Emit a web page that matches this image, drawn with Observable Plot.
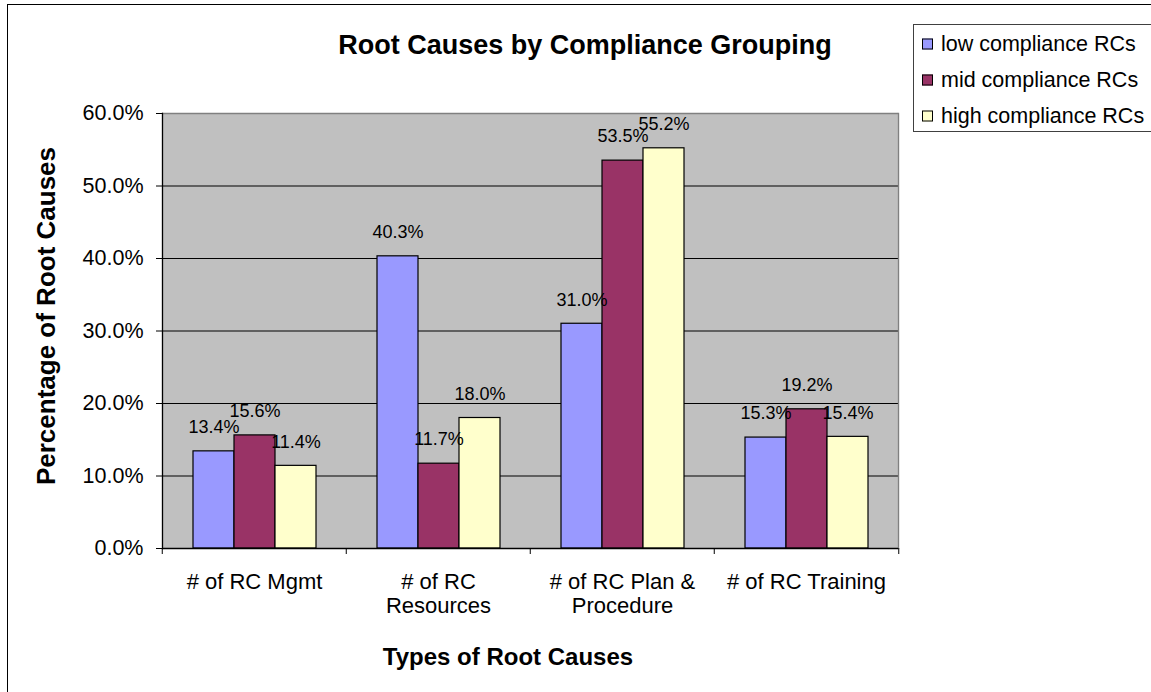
<!DOCTYPE html>
<html>
<head>
<meta charset="utf-8">
<script src="https://cdn.jsdelivr.net/npm/d3@7"></script>
<script src="https://cdn.jsdelivr.net/npm/@observablehq/plot@0.6"></script>
<style>
  html, body { margin: 0; padding: 0; background: #fff; overflow: hidden; }
  body { font-family: "Liberation Sans", Arial, sans-serif; color: #000; }
  #wrap { position: relative; width: 1151px; height: 692px; overflow: hidden; }
  #border { position: absolute; left: 7px; top: 4px; width: 1160px; height: 720px; border-left: 1.5px solid #000; border-top: 1.5px solid #000; box-sizing: border-box; }
  #chart { position: absolute; left: 0; top: 0; }
  .title { position: absolute; font-weight: bold; white-space: nowrap; transform: translate(-50%, -50%); }
  #legend { position: absolute; left: 913px; top: 24px; width: 260px; height: 108px; border: 1px solid #404040; box-sizing: border-box; background: #fff; }
  .item { position: absolute; left: 8px; font-size: 21.5px; white-space: nowrap; display: flex; align-items: center; transform: translateY(-50%); }
  .sw { width: 9px; height: 9px; border: 1px solid #000; margin-right: 8px; }
</style>
</head>
<body>
<div id="wrap">
  <div id="border"></div>
  <div id="chart"></div>
  <div class="title" id="mainTitle" style="left:585px; top:45px; font-size:27px;"></div>
  <div class="title" id="yTitle" style="left:46px; top:316px; font-size:26px; transform: translate(-50%, -50%) rotate(-90deg);"></div>
  <div class="title" id="xTitle" style="left:508px; top:657px; font-size:24px;"></div>
  <div id="legend"></div>
</div>
<script>
// ---- data ----
const chartTitle = "Root Causes by Compliance Grouping";
const xTitle = "Types of Root Causes";
const yTitle = "Percentage of Root Causes";
const categories = ["# of RC Mgmt", "# of RC Resources", "# of RC Plan & Procedure", "# of RC Training"];
const tickLabels = ["# of RC Mgmt", "# of RC\nResources", "# of RC Plan &\nProcedure", "# of RC Training"];
const series = ["low compliance RCs", "mid compliance RCs", "high compliance RCs"];
const lowValues = [0.134, 0.403, 0.310, 0.153];
const midValues = [0.156, 0.117, 0.535, 0.192];
const highValues = [0.114, 0.180, 0.552, 0.154];
const colors = ["#9999FF", "#993366", "#FFFFCC"];
const yTicks = [0, 0.1, 0.2, 0.3, 0.4, 0.5, 0.6];

const seriesValues = [lowValues, midValues, highValues];
const data = categories.flatMap((c, i) =>
  series.map((s, j) => ({category: c, series: s, value: seriesValues[j][i]}))
);

// ---- layout ----
const W = 1151, H = 692;
const M = {left: 161, right: 252, top: 113, bottom: 144};
const band = (W - M.left - M.right) / categories.length;
const pct = d3.format(".1%");

const chart = Plot.plot({
  width: W,
  height: H,
  marginLeft: M.left,
  marginRight: M.right,
  marginTop: M.top,
  marginBottom: M.bottom,
  style: {fontFamily: "'Liberation Sans', Arial, sans-serif", background: "transparent", color: "#000", overflow: "visible"},
  fx: {domain: categories, padding: 0, label: null},
  x: {domain: series, paddingInner: 0, paddingOuter: 0.733, axis: null},
  y: {domain: [0, 0.6], label: null},
  color: {domain: series, range: colors},
  marks: [
    Plot.frame({fill: "#C0C0C0", insetLeft: -0.6, insetRight: -0.6}),
    Plot.ruleY(yTicks.slice(1, -1), {stroke: "#000", strokeWidth: 1}),
    Plot.ruleY([0.6], {stroke: "#808080", strokeWidth: 1.3}),
    Plot.frame({anchor: "right", facetAnchor: "right", stroke: "#808080", strokeWidth: 1.3}),
    Plot.barY(data, {fx: "category", x: "series", y: "value", fill: "series", stroke: "#000", strokeWidth: 1.2}),
    Plot.text(data, {fx: "category", x: "series", y: "value", text: d => pct(d.value), dy: -24, fontSize: 18, fill: "#000"}),
    Plot.ruleY([0], {stroke: "#000", strokeWidth: 1.3}),
    Plot.frame({anchor: "left", facetAnchor: "left", stroke: "#000", strokeWidth: 1.3}),
    Plot.axisY({ticks: yTicks, tickFormat: pct, tickSize: 6, tickPadding: 13, fontSize: 21.5, label: null, stroke: "#000"}),
    Plot.axisFx({anchor: "bottom", tickSize: 0, tickPadding: 23, tickFormat: d => tickLabels[categories.indexOf(d)], fontSize: 22, label: null, lineHeight: 1.1}),
    Plot.axisFx({anchor: "bottom", tickSize: 6, dx: -band / 2, tickFormat: () => "", label: null, stroke: "#000"}),
    Plot.axisFx({anchor: "bottom", ticks: [categories[categories.length - 1]], tickSize: 6, dx: band / 2, tickFormat: () => "", label: null, stroke: "#000"})
  ]
});
document.getElementById("chart").appendChild(chart);

document.getElementById("mainTitle").textContent = chartTitle;
document.getElementById("xTitle").textContent = xTitle;
document.getElementById("yTitle").textContent = yTitle;

const legend = document.getElementById("legend");
const rowY = [19, 55, 91];
series.forEach((s, i) => {
  const item = document.createElement("div");
  item.className = "item";
  item.style.top = rowY[i] + "px";
  const sw = document.createElement("div");
  sw.className = "sw";
  sw.style.background = colors[i];
  const label = document.createElement("span");
  label.textContent = s;
  item.appendChild(sw);
  item.appendChild(label);
  legend.appendChild(item);
});
</script>
</body>
</html>
